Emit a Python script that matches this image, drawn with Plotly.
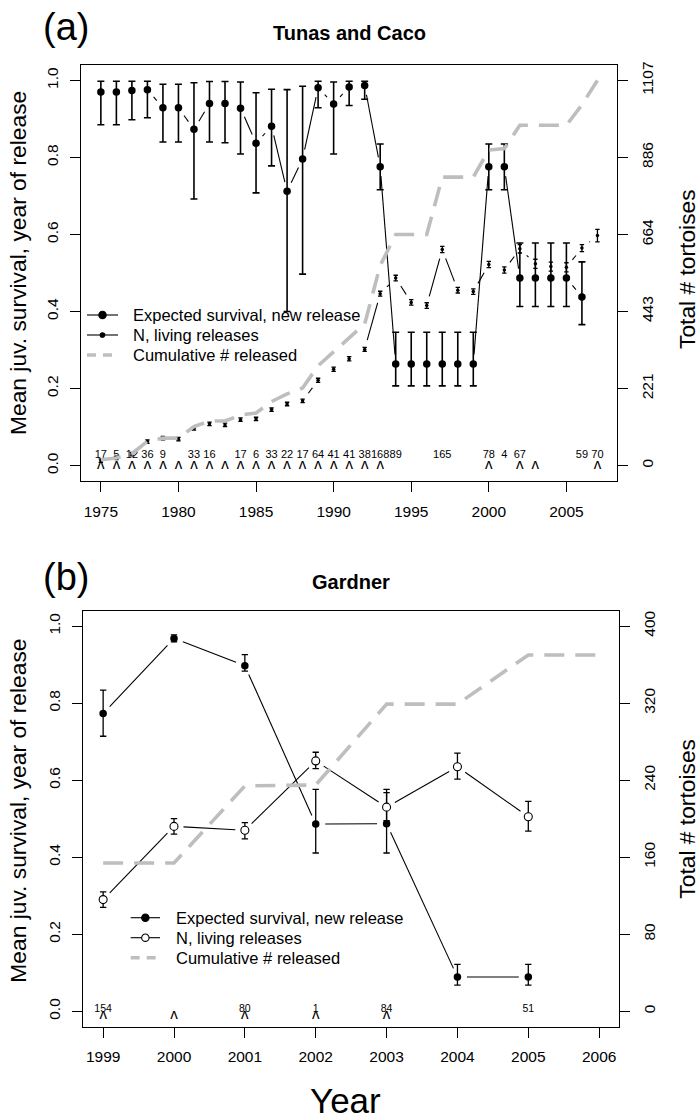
import math
import plotly.graph_objects as go

# ---------------- data: panel (a) Tunas and Caco ----------------
years_a = list(range(1975, 2008))
surv_years_a = list(range(1975, 2007))
surv_a = [0.970, 0.970, 0.974, 0.976, 0.929, 0.929, 0.873, 0.940, 0.940, 0.928,
          0.837, 0.881, 0.712, 0.796, 0.981, 0.939, 0.983, 0.987, 0.776, 0.264,
          0.264, 0.264, 0.264, 0.264, 0.264, 0.776, 0.776, 0.487, 0.487, 0.487,
          0.487, 0.438]
surv_hi_a = [0.998, 0.998, 0.998, 0.998, 0.990, 0.990, 0.994, 0.997, 0.997, 0.996,
             0.968, 0.977, 0.976, 0.985, 0.998, 0.996, 0.998, 0.998, 0.835, 0.346,
             0.346, 0.346, 0.346, 0.346, 0.346, 0.835, 0.835, 0.578, 0.578, 0.578,
             0.578, 0.529]
surv_lo_a = [0.885, 0.885, 0.898, 0.903, 0.840, 0.840, 0.692, 0.840, 0.838, 0.809,
             0.708, 0.778, 0.400, 0.497, 0.929, 0.809, 0.935, 0.951, 0.716, 0.207,
             0.207, 0.207, 0.207, 0.207, 0.207, 0.716, 0.716, 0.413, 0.413, 0.413,
             0.413, 0.366]
living_a = [14, 22, 33, 69, 79, 76, 107, 120, 117, 132, 134, 161, 177, 186, 245,
            277, 307, 334, 494, 539, 469, 460, 621, 504, 500, 578, 562, 623, 580,
            572, 570, 625, 661]
living_err_a = [5, 5, 5, 5, 5, 5, 5, 5, 5, 5, 5, 5, 5, 5, 6, 6, 6, 6, 7, 8, 8, 8,
                9, 8, 8, 9, 9, 12, 13, 13, 13, 10, 18]
cum_a = [17, 22, 34, 70, 79, 79, 112, 128, 128, 145, 151, 184, 206, 223, 287, 328,
         369, 407, 575, 664, 664, 664, 829, 829, 829, 907, 911, 978, 978, 978, 978,
         1037, 1107]
rel_years_a = [1975, 1976, 1977, 1978, 1979, 1981, 1982, 1984, 1985, 1986, 1987,
               1988, 1989, 1990, 1991, 1992, 1993, 1994, 1997, 2000, 2001, 2002,
               2006, 2007]
rel_counts_a = [17, 5, 12, 36, 9, 33, 16, 17, 6, 33, 22, 17, 64, 41, 41, 38, 168,
                89, 165, 78, 4, 67, 59, 70]
caret_years_a = list(range(1975, 1994)) + [2000, 2002, 2003, 2007]
right_ticks_a = [0, 221, 443, 664, 886, 1107]
total_a = 1107

# ---------------- data: panel (b) Gardner ----------------
years_b = list(range(1999, 2007))
surv_years_b = list(range(1999, 2006))
surv_b = [0.773, 0.968, 0.897, 0.486, 0.487, 0.089, 0.089]
surv_hi_b = [0.834, 0.977, 0.926, 0.576, 0.576, 0.122, 0.122]
surv_lo_b = [0.714, 0.959, 0.883, 0.411, 0.411, 0.068, 0.068]
living_b = [116, 192, 188, 260, 212, 254, 202]
living_hi_b = [124, 200, 196, 269, 227, 268, 218]
living_lo_b = [108, 184, 179, 252, 198, 241, 187]
cum_b = [154, 154, 234, 235, 319, 319, 370, 370]
rel_years_b = [1999, 2001, 2002, 2003, 2005]
rel_counts_b = [154, 80, 1, 84, 51]
caret_years_b = [1999, 2000, 2001, 2002, 2003]
right_ticks_b = [0, 80, 160, 240, 320, 400]
total_b = 400

legend_labels = ["Expected survival, new release", "N, living releases",
                 "Cumulative # released"]

# ---------------- layout geometry ----------------
W, H = 700, 1120
FONT = "Liberation Sans, Arial, Helvetica, sans-serif"
GREY = "#bebebe"
A_X = (81.0, 617.3)
A_Y = (65.0, 481.0)
B_X = (83.3, 619.0)
B_Y = (610.7, 1026.7)
xr_a = (1973.72, 2008.28)
xr_b = (1998.72, 2006.28)
yr = (-0.04, 1.04)


def px(x):
    return x / W


def py(y):
    return 1 - y / H


def dom_x(p):
    return [px(p[0]), px(p[1])]


def dom_y(p):
    return [py(p[1]), py(p[0])]


def gapped(xs, ys, pxx, pxy, gap=9.5):
    X, Y = [], []
    for i in range(len(xs) - 1):
        x0, y0, x1, y1 = xs[i], ys[i], xs[i + 1], ys[i + 1]
        dx, dy = (x1 - x0) * pxx, (y1 - y0) * pxy
        L = math.hypot(dx, dy)
        if L <= 2 * gap:
            continue
        f = gap / L
        X += [x0 + (x1 - x0) * f, x1 - (x1 - x0) * f, None]
        Y += [y0 + (y1 - y0) * f, y1 - (y1 - y0) * f, None]
    return X, Y


pxx_a = (A_X[1] - A_X[0]) / (xr_a[1] - xr_a[0])
pxy_a = (A_Y[1] - A_Y[0]) / (yr[1] - yr[0])
pxx_b = (B_X[1] - B_X[0]) / (xr_b[1] - xr_b[0])
pxy_b = (B_Y[1] - B_Y[0]) / (yr[1] - yr[0])

fig = go.Figure()

# ---------- panel (a) ----------
gx, gy = gapped(surv_years_a, surv_a, pxx_a, pxy_a)
fig.add_trace(go.Scatter(x=gx, y=gy, mode="lines", line=dict(color="black", width=1.1),
                         xaxis="x", yaxis="y", showlegend=False, hoverinfo="skip"))
gx, gy = gapped(years_a, living_a, pxx_a, pxy_a / total_a)
fig.add_trace(go.Scatter(x=gx, y=gy, mode="lines", line=dict(color="black", width=1.1),
                         xaxis="x", yaxis="y2", showlegend=False, hoverinfo="skip"))
fig.add_trace(go.Scatter(
    x=surv_years_a, y=surv_a, mode="markers", xaxis="x", yaxis="y",
    marker=dict(color="black", size=7.5),
    error_y=dict(type="data", symmetric=False,
                 array=[h - v for h, v in zip(surv_hi_a, surv_a)],
                 arrayminus=[v - l for l, v in zip(surv_lo_a, surv_a)],
                 color="black", thickness=1.6, width=3.5),
    showlegend=False))
fig.add_trace(go.Scatter(
    x=years_a, y=living_a, mode="markers", xaxis="x", yaxis="y2",
    marker=dict(color="black", size=3.5),
    error_y=dict(type="data", array=living_err_a, color="black", thickness=1.3, width=2.2),
    showlegend=False))
fig.add_trace(go.Scatter(
    x=rel_years_a, y=[0.028] * len(rel_years_a), mode="text", xaxis="x", yaxis="y",
    text=[str(c) for c in rel_counts_a], textfont=dict(family=FONT, size=11, color="black"),
    showlegend=False, hoverinfo="skip"))
fig.add_trace(go.Scatter(
    x=caret_years_a, y=[0.0] * len(caret_years_a), mode="text", xaxis="x", yaxis="y",
    text=["ʌ"] * len(caret_years_a), textfont=dict(family=FONT, size=15, color="black"),
    showlegend=False, hoverinfo="skip"))
fig.add_trace(go.Scatter(
    x=years_a, y=cum_a, mode="lines", xaxis="x", yaxis="y2",
    line=dict(color=GREY, width=3.6, dash="20px,11px"), showlegend=False))

# ---------- panel (b) ----------
gx, gy = gapped(surv_years_b, surv_b, pxx_b, pxy_b)
fig.add_trace(go.Scatter(x=gx, y=gy, mode="lines", line=dict(color="black", width=1.1),
                         xaxis="x2", yaxis="y3", showlegend=False, hoverinfo="skip"))
gx, gy = gapped(surv_years_b, living_b, pxx_b, pxy_b / total_b)
fig.add_trace(go.Scatter(x=gx, y=gy, mode="lines", line=dict(color="black", width=1.1),
                         xaxis="x2", yaxis="y4", showlegend=False, hoverinfo="skip"))
fig.add_trace(go.Scatter(
    x=surv_years_b, y=surv_b, mode="markers", xaxis="x2", yaxis="y3",
    marker=dict(color="black", size=7.5),
    error_y=dict(type="data", symmetric=False,
                 array=[h - v for h, v in zip(surv_hi_b, surv_b)],
                 arrayminus=[v - l for l, v in zip(surv_lo_b, surv_b)],
                 color="black", thickness=1.3, width=3.2),
    showlegend=False))
fig.add_trace(go.Scatter(
    x=surv_years_b, y=living_b, mode="markers", xaxis="x2", yaxis="y4",
    marker=dict(color="white", size=8, symbol="circle", line=dict(color="black", width=1.1)),
    error_y=dict(type="data", symmetric=False,
                 array=[h - v for h, v in zip(living_hi_b, living_b)],
                 arrayminus=[v - l for l, v in zip(living_lo_b, living_b)],
                 color="black", thickness=1.3, width=3.2),
    showlegend=False))
fig.add_trace(go.Scatter(
    x=rel_years_b, y=[0.005] * len(rel_years_b), mode="text", xaxis="x2", yaxis="y3",
    text=[str(c) for c in rel_counts_b], textfont=dict(family=FONT, size=10.5, color="black"),
    showlegend=False, hoverinfo="skip"))
fig.add_trace(go.Scatter(
    x=caret_years_b, y=[-0.010] * len(caret_years_b), mode="text", xaxis="x2", yaxis="y3",
    text=["ʌ"] * len(caret_years_b), textfont=dict(family=FONT, size=15, color="black"),
    showlegend=False, hoverinfo="skip"))
fig.add_trace(go.Scatter(
    x=years_b, y=cum_b, mode="lines", xaxis="x2", yaxis="y4",
    line=dict(color=GREY, width=3.6, dash="20px,11px"), showlegend=False))

tickfont = dict(family=FONT, size=15.5, color="black")
common_x = dict(showline=True, mirror=True, linecolor="black", linewidth=1.2,
                ticks="outside", ticklen=10, tickcolor="black", tickwidth=1.2,
                showgrid=False, zeroline=False, tickfont=tickfont, automargin=False,
                ticklabelstandoff=6)
common_y = dict(showline=True, mirror=True, linecolor="black", linewidth=1.2,
                ticks="outside", ticklen=10, tickcolor="black", tickwidth=1.2,
                showgrid=False, zeroline=False, tickfont=tickfont, automargin=False,
                tickangle=-90, ticklabelstandoff=6)
right_y = dict(showline=False, ticks="outside", ticklen=10, tickcolor="black",
               tickwidth=1.2, showgrid=False, zeroline=False, tickfont=tickfont,
               automargin=False, tickangle=-90, side="right", ticklabelstandoff=6)

layout = dict(
    width=W, height=H, autosize=False,
    margin=dict(l=0, r=0, t=0, b=0),
    paper_bgcolor="white", plot_bgcolor="white",
    font=dict(family=FONT, color="black"),
    showlegend=False,
    xaxis=dict(domain=dom_x(A_X), range=list(xr_a), anchor="y",
               tickvals=[1975, 1980, 1985, 1990, 1995, 2000, 2005], **common_x),
    yaxis=dict(domain=dom_y(A_Y), range=list(yr), anchor="x",
               tickvals=[0, 0.2, 0.4, 0.6, 0.8, 1.0],
               ticktext=["0.0", "0.2", "0.4", "0.6", "0.8", "1.0"], **common_y),
    yaxis2=dict(overlaying="y", anchor="x",
                range=[yr[0] * total_a, yr[1] * total_a],
                tickvals=right_ticks_a, ticktext=[str(t) for t in right_ticks_a], **right_y),
    xaxis2=dict(domain=dom_x(B_X), range=list(xr_b), anchor="y3",
                tickvals=list(range(1999, 2007)), **common_x),
    yaxis3=dict(domain=dom_y(B_Y), range=list(yr), anchor="x2",
                tickvals=[0, 0.2, 0.4, 0.6, 0.8, 1.0],
                ticktext=["0.0", "0.2", "0.4", "0.6", "0.8", "1.0"], **common_y),
    yaxis4=dict(overlaying="y3", anchor="x2",
                range=[yr[0] * total_b, yr[1] * total_b],
                tickvals=right_ticks_b, ticktext=[str(t) for t in right_ticks_b], **right_y),
)
fig.update_layout(**layout)


def ann(text, x, y, size, bold=False, angle=0, xanchor="center"):
    fig.add_annotation(text=f"<b>{text}</b>" if bold else text,
                       x=px(x), y=py(y), xref="paper", yref="paper",
                       showarrow=False, textangle=angle, xanchor=xanchor, yanchor="middle",
                       font=dict(family=FONT, size=size, color="black"))


# ---------- hand-drawn legends (R style) ----------
def legend(x0, x1, y_rows, text_x, open_second):
    xm = (x0 + x1) / 2
    for i, lab in enumerate(legend_labels):
        y = y_rows[i]
        if i < 2:
            fig.add_shape(type="line", xref="paper", yref="paper",
                          x0=px(x0), x1=px(x1), y0=py(y), y1=py(y),
                          line=dict(color="black", width=1.1))
            r = 3.7 if (i == 0 or open_second) else 2.3
            fill = "white" if (i == 1 and open_second) else "black"
            fig.add_shape(type="circle", xref="paper", yref="paper",
                          x0=px(xm - r), x1=px(xm + r), y0=py(y + r), y1=py(y - r),
                          fillcolor=fill, line=dict(color="black", width=1.1))
        else:
            fig.add_shape(type="line", xref="paper", yref="paper",
                          x0=px(x0), x1=px(x1), y0=py(y), y1=py(y),
                          line=dict(color=GREY, width=3.6, dash="9px,7px"))
        ann(lab, text_x, y, 16.5, xanchor="left")


legend(87, 118, [315, 335, 355], 131, False)
legend(130.7, 160, [917.7, 937.7, 957.7], 174, True)

ann("(a)", 66, 27, 38)
ann("(b)", 66, 577, 38)
ann("Tunas and Caco", (A_X[0] + A_X[1]) / 2, 33, 20, bold=True)
ann("Gardner", (B_X[0] + B_X[1]) / 2, 582, 20, bold=True)
ann("Mean juv. survival, year of release", 18, (A_Y[0] + A_Y[1]) / 2 - 10, 22.8, angle=-90)
ann("Mean juv. survival, year of release", 18, (B_Y[0] + B_Y[1]) / 2 - 8, 22.8, angle=-90)
ann("Total # tortoises", 687, (A_Y[0] + A_Y[1]) / 2 - 4, 22.8, angle=-90)
ann("Total # tortoises", 687, (B_Y[0] + B_Y[1]) / 2, 22.8, angle=-90)
ann("Year", 345, 1100, 35)

fig.write_html("out.html", config={"displayModeBar": False},
               post_script="document.body.style.margin='0';")
